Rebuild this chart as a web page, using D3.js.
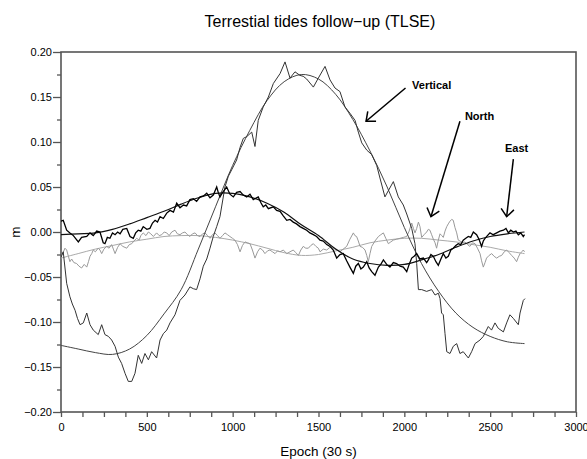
<!DOCTYPE html>
<html lang="en">
<head>
<meta charset="UTF-8"/>
<title>Terrestial tides follow-up (TLSE)</title>
<script src="https://d3js.org/d3.v7.min.js"></script>
<style>
  body { margin: 0; background: #fff; }
  svg { display: block; font-family: 'Liberation Sans', Arial, sans-serif; }
  .axis path { display: none; }
  .axis line { stroke: #555; stroke-width: 1.3; }
  .axis text { font-size: 11px; fill: #000; }
  .frame { fill: none; stroke: #555; stroke-width: 1.6; }
  .title { font-size: 16px; }
  .label { font-size: 13.5px; }
  .note { font-size: 11px; font-weight: bold; }
  .arrow { stroke: #000; stroke-width: 1.5; fill: none; }
</style>
</head>
<body>
<svg width="587" height="459"></svg>
<script>
// smooth model curves, one value every 100 epochs
const modelEpochs = [0, 100, 200, 300, 400, 500, 600, 700, 800, 900, 1000, 1100, 1200, 1300,
  1400, 1500, 1600, 1700, 1800, 1900, 2000, 2100, 2200, 2300, 2400, 2500, 2600, 2700];
const verticalModel = [-0.126, -0.130, -0.134, -0.136, -0.130, -0.115, -0.091, -0.064, -0.019, 0.028,
  0.074, 0.113, 0.146, 0.167, 0.175, 0.170, 0.153, 0.125, 0.090, 0.050, 0.005, -0.035, -0.066,
  -0.090, -0.106, -0.116, -0.122, -0.124];
const eastModel = [-0.003, -0.002, -0.001, 0.003, 0.009, 0.016, 0.023, 0.031, 0.038, 0.043, 0.043,
  0.039, 0.032, 0.022, 0.008, -0.004, -0.019, -0.030, -0.035, -0.037, -0.036, -0.031, -0.025,
  -0.017, -0.010, -0.005, -0.002, 0.000];
const northModel = [-0.029, -0.024, -0.019, -0.015, -0.011, -0.008, -0.005, -0.004, -0.004, -0.006,
  -0.009, -0.013, -0.018, -0.023, -0.026, -0.025, -0.021, -0.017, -0.012, -0.009, -0.007, -0.007,
  -0.009, -0.011, -0.014, -0.017, -0.021, -0.024];

// observed series [epoch, metres]
const verticalObs = [[0,-0.028],[13,-0.022],[33,-0.057],[52,-0.072],[66,-0.080],[82,-0.087],[96,-0.096],
  [111,-0.103],[130,-0.101],[150,-0.090],[169,-0.103],[188,-0.109],[217,-0.114],[237,-0.103],[256,-0.114],
  [276,-0.116],[295,-0.120],[315,-0.127],[334,-0.139],[353,-0.146],[373,-0.157],[392,-0.166],[412,-0.166],
  [431,-0.157],[450,-0.137],[470,-0.146],[489,-0.135],[509,-0.142],[528,-0.133],[557,-0.140],[577,-0.120],
  [596,-0.113],[616,-0.109],[635,-0.101],[664,-0.092],[693,-0.076],[722,-0.070],[751,-0.061],[771,-0.063],
  [790,-0.064],[810,-0.052],[829,-0.038],[849,-0.030],[868,-0.018],[887,-0.005],[907,0.006],[926,0.017],
  [955,0.050],[975,0.062],[994,0.069],[1023,0.080],[1043,0.094],[1062,0.104],[1082,0.106],[1111,0.111],
  [1130,0.095],[1149,0.124],[1178,0.139],[1208,0.150],[1237,0.165],[1276,0.176],[1305,0.189],[1334,0.171],
  [1363,0.178],[1392,0.174],[1411,0.173],[1431,0.170],[1470,0.161],[1499,0.171],[1538,0.184],[1567,0.169],
  [1596,0.160],[1625,0.156],[1654,0.139],[1683,0.132],[1713,0.124],[1732,0.111],[1752,0.099],[1781,0.091],
  [1810,0.086],[1839,0.074],[1858,0.060],[1887,0.039],[1936,0.056],[1965,0.039],[1994,0.030],[2014,0.020],
  [2043,0.004],[2062,-0.013],[2072,-0.035],[2082,-0.064],[2101,-0.064],[2130,-0.066],[2159,-0.064],
  [2179,-0.070],[2198,-0.068],[2208,-0.074],[2217,-0.090],[2227,-0.092],[2237,-0.113],[2247,-0.133],
  [2266,-0.135],[2285,-0.127],[2305,-0.124],[2324,-0.135],[2343,-0.133],[2373,-0.140],[2392,-0.133],
  [2412,-0.124],[2441,-0.120],[2460,-0.116],[2489,-0.105],[2508,-0.109],[2528,-0.101],[2547,-0.107],
  [2577,-0.111],[2596,-0.101],[2615,-0.092],[2635,-0.096],[2664,-0.103],[2674,-0.090],[2693,-0.076],[2703,-0.074]];

const eastObs = [[0,0.012],[13,0.013],[33,0.002],[52,-0.001],[72,-0.004],[101,-0.011],[120,-0.006],[150,-0.005],
  [169,-0.001],[188,-0.004],[208,0.001],[227,0.000],[246,-0.012],[256,-0.013],[270,-0.006],[285,-0.007],
  [300,-0.001],[315,-0.003],[330,0.000],[344,-0.002],[360,0.003],[383,0.004],[402,-0.005],[421,-0.007],
  [435,-0.001],[450,0.002],[465,0.001],[479,0.006],[500,0.003],[518,0.004],[533,0.010],[548,0.013],
  [562,0.011],[577,0.017],[596,0.015],[616,0.021],[635,0.024],[655,0.022],[674,0.032],[693,0.027],
  [713,0.030],[732,0.029],[751,0.036],[771,0.037],[790,0.034],[810,0.039],[830,0.040],[849,0.043],
  [868,0.038],[887,0.041],[907,0.050],[916,0.044],[926,0.039],[945,0.045],[965,0.050],[984,0.042],
  [1004,0.039],[1023,0.044],[1043,0.045],[1062,0.041],[1082,0.039],[1101,0.042],[1120,0.036],[1149,0.039],
  [1163,0.033],[1178,0.028],[1193,0.030],[1208,0.026],[1237,0.028],[1256,0.024],[1276,0.023],[1295,0.018],
  [1315,0.013],[1334,0.014],[1353,0.011],[1372,0.009],[1392,0.006],[1411,0.004],[1431,0.002],[1450,-0.001],
  [1470,-0.003],[1489,-0.005],[1509,-0.009],[1528,-0.010],[1548,-0.014],[1567,-0.016],[1586,-0.020],
  [1606,-0.029],[1625,-0.025],[1644,-0.024],[1664,-0.032],[1683,-0.039],[1703,-0.046],[1717,-0.038],
  [1732,-0.035],[1747,-0.041],[1761,-0.039],[1781,-0.033],[1795,-0.040],[1810,-0.044],[1829,-0.048],
  [1849,-0.039],[1863,-0.036],[1878,-0.031],[1897,-0.036],[1916,-0.039],[1936,-0.034],[1955,-0.035],
  [1975,-0.038],[1994,-0.039],[2014,-0.044],[2028,-0.036],[2043,-0.029],[2057,-0.027],[2072,-0.024],
  [2091,-0.030],[2111,-0.029],[2130,-0.034],[2140,-0.031],[2155,-0.025],[2169,-0.027],[2184,-0.033],
  [2198,-0.037],[2213,-0.030],[2227,-0.024],[2242,-0.029],[2256,-0.027],[2271,-0.020],[2285,-0.018],
  [2300,-0.015],[2314,-0.013],[2329,-0.014],[2343,-0.009],[2358,-0.007],[2373,-0.005],[2387,-0.006],
  [2402,0.000],[2421,-0.003],[2435,-0.008],[2450,-0.016],[2460,-0.010],[2470,-0.007],[2484,-0.004],
  [2499,-0.001],[2518,-0.003],[2538,-0.001],[2557,0.001],[2577,0.002],[2592,0.004],[2606,-0.001],
  [2620,0.002],[2635,0.000],[2650,0.001],[2664,-0.003],[2678,-0.001],[2693,-0.005],[2700,-0.003]];

const northObs = [[0,-0.027],[10,-0.024],[23,-0.018],[33,-0.020],[43,-0.027],[52,-0.033],[62,-0.030],
  [75,-0.034],[91,-0.035],[105,-0.038],[120,-0.040],[135,-0.036],[150,-0.039],[160,-0.033],[169,-0.027],
  [179,-0.024],[188,-0.020],[200,-0.022],[217,-0.018],[227,-0.020],[237,-0.024],[250,-0.019],[266,-0.016],
  [280,-0.018],[295,-0.014],[305,-0.019],[315,-0.024],[330,-0.017],[344,-0.013],[360,-0.016],[383,-0.018],
  [398,-0.014],[412,-0.013],[425,-0.010],[441,-0.007],[455,-0.009],[465,-0.004],[479,-0.001],[495,-0.004],
  [509,0.000],[523,-0.002],[538,-0.005],[557,-0.001],[572,-0.004],[587,-0.003],[601,0.000],[616,-0.001],
  [630,-0.004],[645,0.000],[664,0.002],[678,-0.002],[693,-0.003],[708,-0.001],[722,0.000],[737,-0.003],
  [751,-0.005],[766,-0.002],[781,-0.001],[795,-0.004],[810,-0.005],[825,-0.002],[839,-0.001],[854,-0.004],
  [868,-0.007],[882,-0.003],[897,-0.001],[912,-0.004],[926,-0.007],[941,-0.004],[955,-0.001],[970,-0.003],
  [984,-0.005],[999,-0.007],[1013,-0.009],[1028,-0.014],[1043,-0.022],[1057,-0.015],[1072,-0.011],
  [1086,-0.012],[1101,-0.013],[1115,-0.020],[1130,-0.029],[1145,-0.022],[1159,-0.018],[1174,-0.020],
  [1188,-0.024],[1203,-0.021],[1217,-0.020],[1232,-0.022],[1247,-0.024],[1261,-0.021],[1276,-0.022],
  [1295,-0.020],[1315,-0.024],[1334,-0.022],[1353,-0.020],[1368,-0.023],[1383,-0.026],[1397,-0.020],
  [1411,-0.016],[1426,-0.018],[1441,-0.018],[1455,-0.015],[1470,-0.013],[1485,-0.016],[1499,-0.018],
  [1509,-0.022],[1528,-0.019],[1548,-0.020],[1567,-0.017],[1586,-0.018],[1606,-0.020],[1625,-0.022],
  [1644,-0.019],[1664,-0.016],[1683,-0.008],[1703,-0.001],[1712,-0.004],[1722,-0.005],[1732,-0.010],
  [1742,-0.016],[1756,-0.017],[1771,-0.020],[1781,-0.026],[1790,-0.033],[1800,-0.024],[1810,-0.016],
  [1829,-0.010],[1849,-0.005],[1863,-0.003],[1878,-0.001],[1892,-0.007],[1907,-0.013],[1921,-0.011],
  [1936,-0.009],[1955,-0.008],[1975,-0.007],[1994,-0.006],[2014,-0.005],[2028,0.001],[2043,0.010],
  [2053,0.004],[2062,-0.001],[2072,0.004],[2082,0.011],[2091,0.006],[2101,-0.006],[2115,-0.003],
  [2130,0.000],[2140,0.003],[2149,0.002],[2159,-0.003],[2169,-0.008],[2179,-0.012],[2188,-0.018],
  [2198,-0.009],[2208,-0.002],[2218,-0.004],[2227,-0.006],[2237,0.001],[2247,0.006],[2256,0.009],
  [2266,0.012],[2276,0.014],[2285,0.013],[2295,0.005],[2305,-0.001],[2314,-0.009],[2324,-0.010],
  [2343,-0.012],[2353,-0.011],[2368,-0.014],[2382,-0.016],[2397,-0.012],[2412,-0.013],[2426,-0.018],
  [2441,-0.024],[2450,-0.032],[2460,-0.039],[2470,-0.034],[2479,-0.029],[2494,-0.026],[2509,-0.024],
  [2523,-0.027],[2538,-0.029],[2553,-0.027],[2567,-0.026],[2582,-0.022],[2596,-0.020],[2611,-0.023],
  [2625,-0.026],[2640,-0.029],[2654,-0.033],[2664,-0.028],[2674,-0.024],[2684,-0.022],[2693,-0.020],[2700,-0.022]];

// axis ticks
const xTicks = [0, 500, 1000, 1500, 2000, 2500, 3000];
const xMinorTicks = [125, 250, 375, 625, 750, 875, 1125, 1250, 1375, 1625, 1750, 1875,
  2125, 2250, 2375, 2625, 2750, 2875];
const yTicks = [-0.20, -0.15, -0.10, -0.05, 0.00, 0.05, 0.10, 0.15, 0.20];
const yMinorTicks = [-0.175, -0.125, -0.075, -0.025, 0.025, 0.075, 0.125, 0.175];

// annotations (data coords)
const noteLabels = ['Vertical', 'North', 'East'];
const noteText = [[2045, 0.1586], [2353, 0.1244], [2586, 0.0892]];
const noteFrom = [[2007, 0.160], [2324, 0.123], [2635, 0.081]];
const noteTo = [[1777, 0.123], [2155, 0.017], [2596, 0.017]];

const svg = d3.select('svg');
const plotLeft = 61, plotRight = 576, plotTop = 52, plotBottom = 412;

const x = d3.scaleLinear().domain([0, 3000]).range([plotLeft, plotRight]);
const y = d3.scaleLinear().domain([-0.2, 0.2]).range([plotBottom, plotTop]);

svg.append('rect').attr('width', 587).attr('height', 459).attr('fill', '#fff');

svg.append('defs').append('clipPath').attr('id', 'clip')
  .append('rect').attr('x', plotLeft).attr('y', plotTop)
  .attr('width', plotRight - plotLeft).attr('height', plotBottom - plotTop);

// axes
svg.append('g').attr('class', 'axis')
  .attr('transform', `translate(${plotLeft},0)`)
  .call(d3.axisLeft(y).tickValues(yTicks).tickSize(8).tickPadding(1).tickFormat(d3.format('.2f')));
svg.append('g').attr('class', 'axis')
  .attr('transform', `translate(${plotLeft},0)`)
  .call(d3.axisLeft(y).tickValues(yMinorTicks).tickSize(4).tickFormat(''));
svg.append('g').attr('class', 'axis')
  .attr('transform', `translate(0,${plotBottom})`)
  .call(d3.axisBottom(x).tickValues(xTicks).tickSize(5).tickPadding(6).tickFormat(d3.format('d')));
svg.append('g').attr('class', 'axis')
  .attr('transform', `translate(0,${plotBottom})`)
  .call(d3.axisBottom(x).tickValues(xMinorTicks).tickSize(5).tickFormat(''));

svg.append('rect').attr('class', 'frame')
  .attr('x', plotLeft).attr('y', plotTop)
  .attr('width', plotRight - plotLeft).attr('height', plotBottom - plotTop);

// series
const plot = svg.append('g').attr('clip-path', 'url(#clip)');
const rough = d3.line().x(d => x(d[0])).y(d => y(d[1]));
const smooth = d3.line().x(d => x(d[0])).y(d => y(d[1])).curve(d3.curveCatmullRom);
const zipModel = vals => modelEpochs.map((e, i) => [e, vals[i]]);

plot.append('path').attr('d', smooth(zipModel(northModel)))
  .attr('fill', 'none').attr('stroke', '#aaa').attr('stroke-width', 1);
plot.append('path').attr('d', rough(northObs))
  .attr('fill', 'none').attr('stroke', '#999').attr('stroke-width', 1);
plot.append('path').attr('d', smooth(zipModel(verticalModel)))
  .attr('fill', 'none').attr('stroke', '#444').attr('stroke-width', 1);
plot.append('path').attr('d', rough(verticalObs))
  .attr('fill', 'none').attr('stroke', '#333').attr('stroke-width', 1);
plot.append('path').attr('d', smooth(zipModel(eastModel)))
  .attr('fill', 'none').attr('stroke', '#111').attr('stroke-width', 1.2);
plot.append('path').attr('d', rough(eastObs))
  .attr('fill', 'none').attr('stroke', '#000').attr('stroke-width', 1.3);

// annotations with open arrow heads
noteLabels.forEach((lab, i) => {
  svg.append('text').attr('class', 'note')
    .attr('x', x(noteText[i][0])).attr('y', y(noteText[i][1]))
    .text(lab);
  const x1 = x(noteFrom[i][0]), y1 = y(noteFrom[i][1]);
  const x2 = x(noteTo[i][0]), y2 = y(noteTo[i][1]);
  svg.append('line').attr('class', 'arrow')
    .attr('x1', x1).attr('y1', y1).attr('x2', x2).attr('y2', y2);
  const ang = Math.atan2(y1 - y2, x1 - x2);
  const head = 10, spread = 40 * Math.PI / 180;
  const pts = [[x2 + head * Math.cos(ang - spread), y2 + head * Math.sin(ang - spread)],
    [x2, y2],
    [x2 + head * Math.cos(ang + spread), y2 + head * Math.sin(ang + spread)]];
  svg.append('path').attr('class', 'arrow').attr('d', d3.line()(pts));
});

// titles
svg.append('text').attr('class', 'title')
  .attr('x', 320).attr('y', 27).attr('text-anchor', 'middle')
  .text('Terrestial tides follow\u2212up (TLSE)');
svg.append('text').attr('class', 'label')
  .attr('x', (plotLeft + plotRight) / 2).attr('y', 456).attr('text-anchor', 'middle')
  .text('Epoch (30 s)');
svg.append('text').attr('class', 'label')
  .attr('transform', `translate(19.5,${y(0)}) rotate(-90)`)
  .attr('text-anchor', 'middle')
  .text('m');
</script>
</body>
</html>
